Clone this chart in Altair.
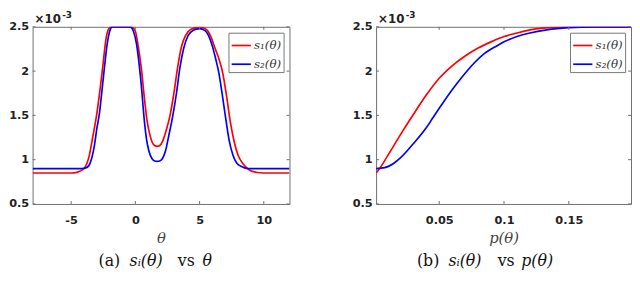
import altair as alt
import pandas as pd

# ---------------- data (values in units of 1e-3) ----------------
theta_s1 = [-8, -5, -4.5, -4, -3.6, -3.3, -3.0, -2.7, -2.5, -2.3, -2.1, -1.9, -1.0, -0.3, 0.0, 0.2,
            0.45, 0.7, 0.9, 1.1, 1.3, 1.5, 1.7, 1.9, 2.1, 2.4, 2.7, 3.0, 3.3, 3.6, 3.9, 4.3, 4.8,
            5.2, 5.6, 5.9, 6.2, 6.5, 6.8, 7.1, 7.4, 7.7, 8.0, 8.4, 8.9, 9.5, 10, 12]
s1_theta = [0.85, 0.85, 0.86, 0.9, 1.04, 1.27, 1.52, 1.85, 2.1, 2.35, 2.47, 2.5, 2.5, 2.5, 2.45, 2.3,
            2.05, 1.7, 1.45, 1.3, 1.2, 1.16, 1.15, 1.16, 1.2, 1.33, 1.5, 1.75, 2.05, 2.28, 2.4, 2.47, 2.49,
            2.49, 2.46, 2.38, 2.26, 2.14, 1.98, 1.72, 1.42, 1.2, 1.05, 0.95, 0.88, 0.855, 0.85, 0.85]

theta_s2 = [-8, -4.2, -3.8, -3.5, -3.2, -3.0, -2.8, -2.6, -2.4, -2.2, -2.0, -1.8, -0.4, -0.15, 0.1,
            0.33, 0.5, 0.66, 0.85, 1.05, 1.3, 1.5, 1.7, 1.9, 2.1, 2.35, 2.6, 2.92, 3.2, 3.46, 3.75,
            4.1, 4.5, 5.0, 5.4, 5.7, 6.0, 6.25, 6.5, 6.75, 7.0, 7.3, 7.6, 7.9, 8.3, 8.8, 12]
s2_theta = [0.9, 0.9, 0.91, 0.97, 1.15, 1.35, 1.52, 1.78, 2.05, 2.3, 2.45, 2.5, 2.5, 2.45, 2.3,
            2.03, 1.78, 1.5, 1.25, 1.1, 1.01, 0.985, 0.98, 0.985, 1.01, 1.1, 1.27, 1.5, 1.75, 2.03, 2.25,
            2.4, 2.46, 2.48, 2.46, 2.4, 2.28, 2.14, 1.98, 1.75, 1.5, 1.22, 1.05, 0.96, 0.92, 0.9, 0.9]

p_s1 = [0.0013, 0.004, 0.01, 0.02, 0.03, 0.04, 0.05, 0.06, 0.07, 0.08, 0.09, 0.1, 0.11, 0.12,
        0.13, 0.15, 0.198]
s1_p = [0.85, 0.9, 1.04, 1.28, 1.51, 1.73, 1.92, 2.06, 2.17, 2.26, 2.33, 2.39, 2.43, 2.465,
        2.485, 2.5, 2.5]

p_s2 = [0.0013, 0.008, 0.015, 0.02, 0.03, 0.04, 0.045, 0.05, 0.06, 0.0675, 0.075, 0.085, 0.095,
        0.1, 0.11, 0.12, 0.133, 0.15, 0.17, 0.198]
s2_p = [0.9, 0.91, 0.96, 1.02, 1.18, 1.36, 1.47, 1.58, 1.79, 1.93, 2.06, 2.2, 2.29,
        2.33, 2.39, 2.43, 2.465, 2.49, 2.5, 2.5]

series_names = ["s\u2081(\u03b8)", "s\u2082(\u03b8)"]
series_colors = ["#ff0000", "#0000ff"]

y_ticks = [0.5, 1, 1.5, 2, 2.5]
x_ticks_a = [-5, 0, 5, 10]
x_ticks_b = [0.05, 0.1, 0.15]
x_domain_a = [-8, 12]
x_domain_b = [0.0013, 0.198]
y_domain = [0.5, 2.5]

# ---------------- styling ----------------
W_A, W_B, H = 261, 259, 180
BOX = "#6e6e6e"
TICKFONT = "DejaVu Sans"
SERIF = "DejaVu Serif"


def make_panel(xs1, ys1, xs2, ys2, xdom, xticks, xtitle, W, caption):
    df = pd.concat([
        pd.DataFrame({"x": xs1, "y": ys1, "s": series_names[0], "o": range(len(xs1))}),
        pd.DataFrame({"x": xs2, "y": ys2, "s": series_names[1], "o": range(len(xs2))}),
    ])
    xscale = alt.Scale(domain=xdom, nice=False, zero=False)
    yscale = alt.Scale(domain=y_domain, nice=False, zero=False)

    lines = alt.Chart(df).mark_line(strokeWidth=1.7, clip=True, interpolate="monotone").encode(
        x=alt.X("x:Q", scale=xscale,
                axis=alt.Axis(values=xticks, labelExpr="'' + datum.value", title=xtitle,
                              ticks=False, domain=False, grid=False,
                              labelFont=TICKFONT, labelFontWeight="bold", labelFontSize=11.5,
                              labelColor="#222", labelPadding=11,
                              titleFont=SERIF, titleFontStyle="italic", titleFontWeight="normal",
                              titleFontSize=15, titleColor="#444", titlePadding=5)),
        y=alt.Y("y:Q", scale=yscale,
                axis=alt.Axis(values=y_ticks, format="~g", title=None,
                              ticks=False, domain=False, grid=False,
                              labelFont=TICKFONT, labelFontWeight="bold", labelFontSize=11.5,
                              labelColor="#222", labelPadding=4,
                              minExtent=21, maxExtent=21)),
        color=alt.Color("s:N", scale=alt.Scale(domain=series_names, range=series_colors),
                        legend=alt.Legend(orient="top-right", title=None, symbolType="stroke",
                                          symbolSize=380, symbolStrokeWidth=1.7,
                                          labelFont=SERIF, labelFontStyle="italic",
                                          labelFontSize=12, labelColor="#333",
                                          fillColor="white", strokeColor="#777",
                                          padding=2, offset=6, rowPadding=2, labelOffset=2)),
        order="o:Q",
    )

    xt = pd.DataFrame({"v": xticks})
    yt = pd.DataFrame({"v": y_ticks})
    xtop = alt.Chart(xt).mark_rule(color=BOX, strokeWidth=1).encode(
        x=alt.X("v:Q", scale=xscale), y=alt.value(0), y2=alt.value(3))
    xbot = alt.Chart(xt).mark_rule(color=BOX, strokeWidth=1).encode(
        x=alt.X("v:Q", scale=xscale), y=alt.value(H - 3), y2=alt.value(H))
    yl = alt.Chart(yt).mark_rule(color=BOX, strokeWidth=1).encode(
        y=alt.Y("v:Q", scale=yscale), x=alt.value(0), x2=alt.value(3))
    yr = alt.Chart(yt).mark_rule(color=BOX, strokeWidth=1).encode(
        y=alt.Y("v:Q", scale=yscale), x=alt.value(W - 3), x2=alt.value(W))

    base = alt.Chart(pd.DataFrame({"a": [0]}))
    exp1 = base.mark_text(text="\u00d710", font=TICKFONT, fontWeight="bold", fontSize=12,
                          align="left", baseline="alphabetic", color="#222").encode(
        x=alt.value(2), y=alt.value(-4))
    exp2 = base.mark_text(text="-3", font=TICKFONT, fontWeight="bold", fontSize=9,
                          align="left", baseline="alphabetic", color="#222").encode(
        x=alt.value(30), y=alt.value(-9))

    caps = []
    for txt, dx, italic in caption:
        caps.append(base.mark_text(text=txt, font=SERIF, fontSize=16,
                                   fontStyle="italic" if italic else "normal",
                                   align="left", baseline="alphabetic", color="#111").encode(
            x=alt.value(W / 2 + dx), y=alt.value(H + 63)))

    return alt.layer(lines, xtop, xbot, yl, yr, exp1, exp2, *caps).properties(width=W, height=H)


cap_a = [("(a)", -63.5, False), ("s\u1d62(\u03b8)", -32, True), ("vs", 17, False), ("\u03b8", 42, True)]
cap_b = [("(b)", -88, False), ("s\u1d62(\u03b8)", -56, True), ("vs", -6, False), ("p(\u03b8)", 18, True)]

panel_a = make_panel(theta_s1, s1_theta, theta_s2, s2_theta, x_domain_a, x_ticks_a, "\u03b8", W_A, cap_a)
panel_b = make_panel(p_s1, s1_p, p_s2, s2_p, x_domain_b, x_ticks_b, "p(\u03b8)", W_B, cap_b)

chart = alt.hconcat(panel_a, panel_b, spacing=62).resolve_scale(
    x="independent", y="independent", color="independent"
).resolve_legend(color="independent").properties(
    padding=0, background="white"
).configure_view(stroke=BOX, strokeWidth=1)

chart.save("out.html", embed_options={"renderer": "svg", "actions": False})
